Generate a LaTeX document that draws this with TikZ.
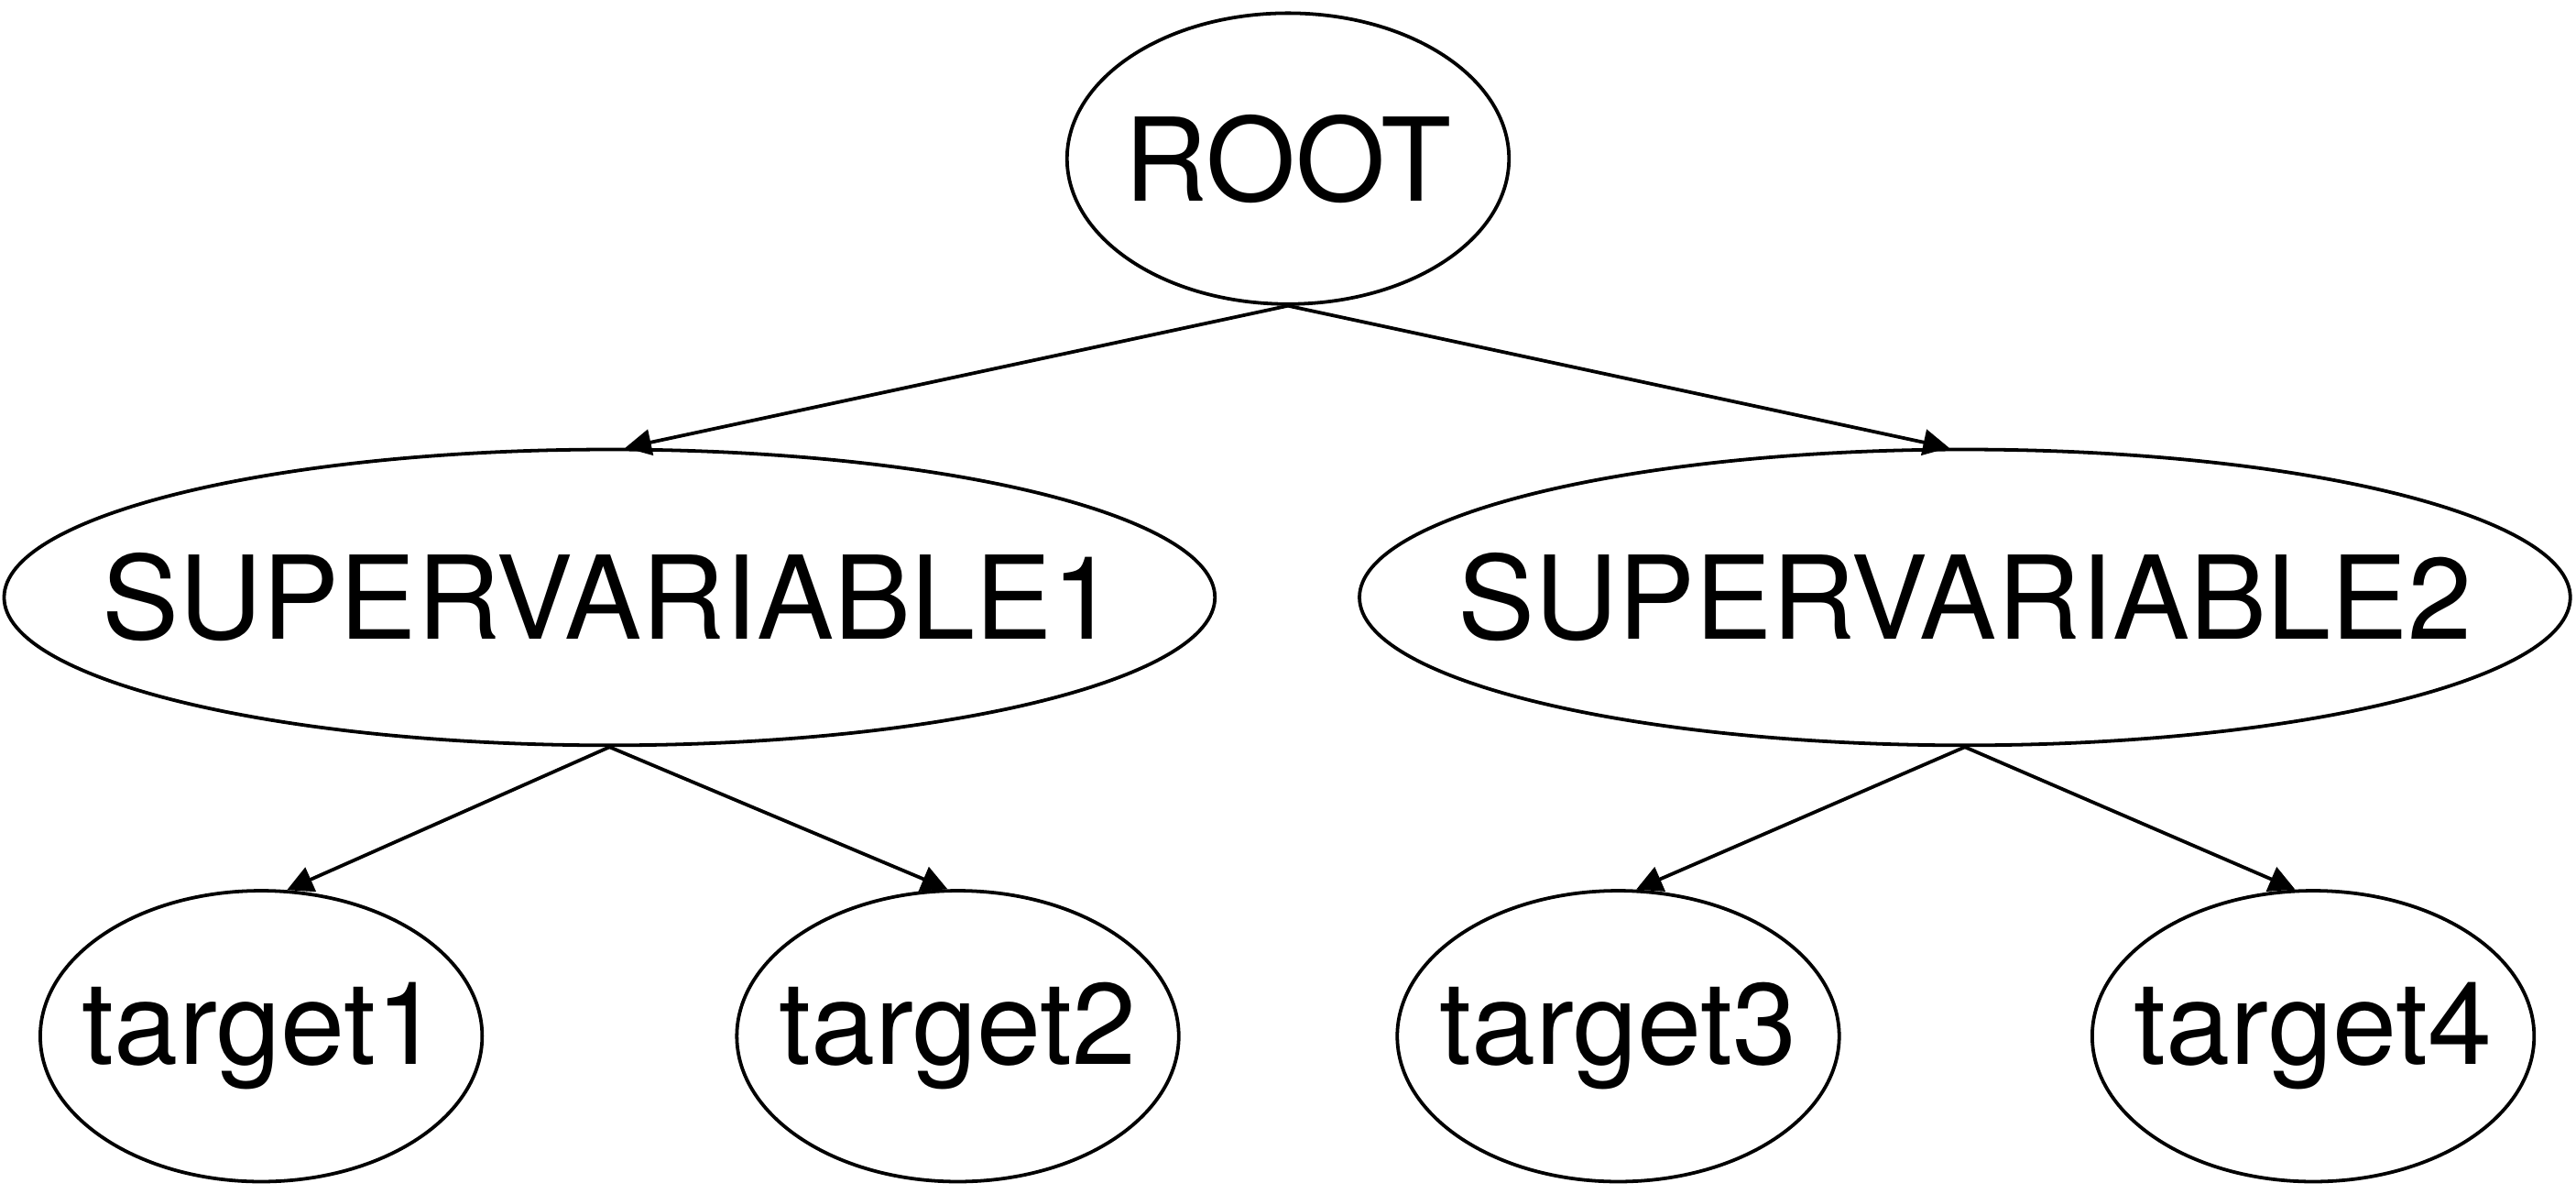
\documentclass[tikz,border=0pt]{standalone}
\usepackage{fontspec}
\setmainfont{TeX Gyre Heros}
\usepackage{tikz}
\usetikzlibrary{shapes.geometric,positioning,arrows.meta}

\begin{document}
\begin{tikzpicture}[on grid,node distance=2.67cm,line width=0.6pt,
    >={Triangle[length=4.5pt,width=4.5pt]},
    var/.style={ellipse,draw,inner sep=0pt,font=\fontsize{20}{24}\selectfont,
      minimum width=2.69cm,minimum height=1.77cm,
      execute at begin node={\hbox to 0pt\bgroup\hss},
      execute at end node={\hss\egroup}},
    super/.style={var,minimum width=7.37cm,minimum height=1.80cm}]
    \useasboundingbox (0,0) rectangle (15.68,-7.26);

    \node[var] (root) at (7.84,-0.965) {ROOT};
    \node[super] (sv1) [below left = 2.67cm and 4.13cm of root] {SUPERVARIABLE1};
    \node[super] (sv2) [below right = 2.67cm and 4.12cm of root] {SUPERVARIABLE2};

    \node[var] (t1) [below left = 2.67cm and 2.12cm of sv1] {target1};
    \node[var] (t2) [below right = 2.67cm and 2.12cm of sv1] {target2};
    \node[var] (t3) [below left = 2.67cm and 2.11cm of sv2] {target3};
    \node[var] (t4) [below right = 2.67cm and 2.12cm of sv2] {target4};

    \path[->]
    (root.south)
    edge (sv1.84)
    edge (sv2.96)
    (sv1.south)
    edge (t1.80)
    edge (t2.94)
    (sv2.south)
    edge (t3.83)
    edge (t4.97)
    ;
\end{tikzpicture}
\end{document}
